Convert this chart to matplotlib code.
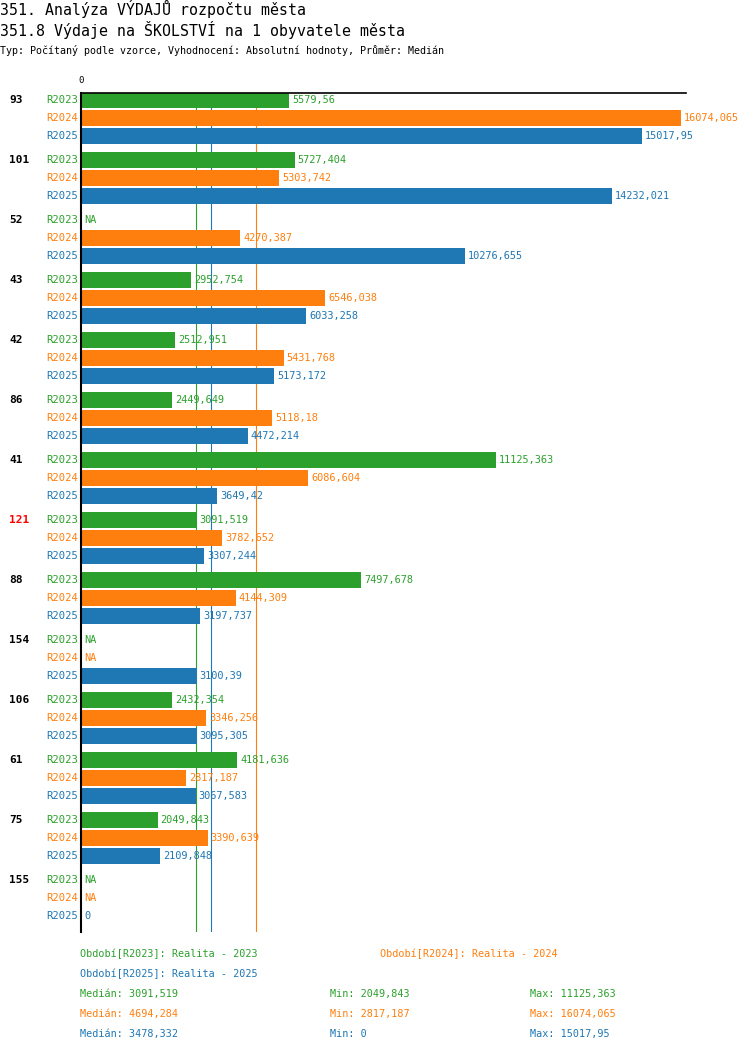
import matplotlib.pyplot as plt
import numpy as np
from decimal import Decimal, ROUND_HALF_UP

plt.rcParams['font.family'] = ['DejaVu Sans Mono']

groups = ["93", "101", "52", "43", "42", "86", "41", "121", "88", "154", "106", "61", "75", "155"]
highlight = "121"
series = ["R2023", "R2024", "R2025"]
colors = ["#2ca02c", "#ff7f0e", "#1f77b4"]

nan = None
r2023 = [5579.56, 5727.404, nan, 2952.754, 2512.951, 2449.649, 11125.363, 3091.519,
         7497.678, nan, 2432.354, 4181.636, 2049.843, nan]
r2024 = [16074.065, 5303.742, 4270.387, 6546.038, 5431.768, 5118.18, 6086.604, 3782.652,
         4144.309, nan, 3346.256, 2817.187, 3390.639, nan]
r2025 = [15017.95, 14232.021, 10276.655, 6033.258, 5173.172, 4472.214, 3649.42, 3307.244,
         3197.737, 3100.39, 3095.305, 3067.583, 2109.848, 0]
values = [r2023, r2024, r2025]

legend_names = ["Období[R2023]: Realita - 2023", "Období[R2024]: Realita - 2024",
                "Období[R2025]: Realita - 2025"]


def fmt(v):
    d = Decimal(repr(float(v))).quantize(Decimal("0.001"), rounding=ROUND_HALF_UP)
    s = format(d, "f").rstrip("0").rstrip(".")
    return s.replace(".", ",")


W, H = 750, 1052
fig = plt.figure(figsize=(W / 100, H / 100), dpi=100)

# axes area in pixels
x0, x1 = 81, 686
y0, y1 = 93, 932
ax = fig.add_axes([x0 / W, 1 - y1 / H, (x1 - x0) / W, (y1 - y0) / H])

vmax = max(v for v in r2024 if v is not None)
ax.set_xlim(0, vmax / 600 * (x1 - x0))
ax.set_ylim(y1 - y0, 0)

for j, (name, col, vals) in enumerate(zip(series, colors, values)):
    ys = [7 + 60 * i + 18 * j for i in range(len(groups))]
    for i, (y, v) in enumerate(zip(ys, vals)):
        ax.annotate(name, xy=(0, y), xytext=(-3, 0), textcoords="offset pixels",
                    ha="right", va="center", color=col, fontsize=7.6)
        if v is None:
            ax.annotate("NA", xy=(0, y), xytext=(3, 0), textcoords="offset pixels",
                        ha="left", va="center", color=col, fontsize=7.4)
            continue
        ax.barh(y, v, height=16, color=col)
        ax.annotate(fmt(v), xy=(v, y), xytext=(3, 0), textcoords="offset pixels",
                    ha="left", va="center", color=col, fontsize=7.4)
    med = np.median([v for v in vals if v is not None])
    ax.axvline(med, color=col, lw=0.8, zorder=0)

for i, g in enumerate(groups):
    ax.annotate(g, xy=(9, 7 + 60 * i), xycoords=("figure pixels", "data"),
                ha="left", va="center", fontsize=8, fontweight="bold",
                color="red" if g == highlight else "black")

for s in ["right", "bottom"]:
    ax.spines[s].set_visible(False)
ax.spines["left"].set_linewidth(1.5)
ax.spines["top"].set_linewidth(1.2)
ax.set_xticks([])
ax.set_yticks([])
ax.annotate("0", xy=(0, 0), xytext=(0, 8), textcoords="offset pixels",
            ha="center", va="bottom", fontsize=6.5)


def ftext(x, y, s, **kw):
    fig.text(x / W, 1 - y / H, s, va="center", **kw)


ftext(0, 9, "351. Analýza VÝDAJŮ rozpočtu města", fontsize=10.7)
ftext(0, 30, "351.8 Výdaje na ŠKOLSTVÍ na 1 obyvatele města", fontsize=10.7)
ftext(0, 51, "Typ: Počítaný podle vzorce, Vyhodnocení: Absolutní hodnoty, Průměr: Medián",
      fontsize=7.2)

ftext(80, 954, legend_names[0], color=colors[0], fontsize=7.3)
ftext(380, 954, legend_names[1], color=colors[1], fontsize=7.3)
ftext(80, 974, legend_names[2], color=colors[2], fontsize=7.3)

for j, (col, vals) in enumerate(zip(colors, values)):
    v = [x for x in vals if x is not None]
    y = 994 + 20 * j
    ftext(80, y, "Medián: " + fmt(np.median(v)), color=col, fontsize=7.3)
    ftext(330, y, "Min: " + fmt(min(v)), color=col, fontsize=7.3)
    ftext(530, y, "Max: " + fmt(max(v)), color=col, fontsize=7.3)

fig.savefig("out.png", dpi=100)
